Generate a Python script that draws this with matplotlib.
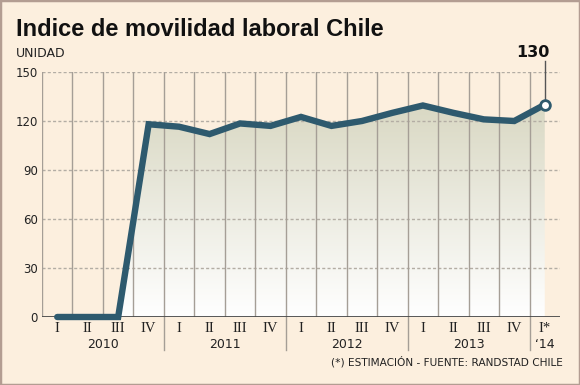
import numpy as np
import matplotlib
matplotlib.use("Agg")
import matplotlib.pyplot as plt
from matplotlib.patches import Polygon, Rectangle
from matplotlib.colors import LinearSegmentedColormap
import matplotlib.transforms as mtransforms

# data
quarters = ["I", "II", "III", "IV", "I", "II", "III", "IV", "I", "II", "III", "IV",
            "I", "II", "III", "IV", "I*"]
years = ["2010", "2011", "2012", "2013", "\u201814"]
year_pos = [1.5, 5.5, 9.5, 13.5, 16]
values = [0, 0, 0, 118, 116.5, 112, 118.5, 117, 122.5, 117, 120, 125,
          129.5, 125, 121, 120, 130]
yticks = [0, 30, 60, 90, 120, 150]

BG = "#fcefde"
LINE = "#2e5a6e"
GRID = "#a59e96"

fig = plt.figure(figsize=(5.8, 3.85), dpi=100)
fig.patch.set_facecolor(BG)
fig.add_artist(Rectangle((0, 0), 1, 1, transform=fig.transFigure, fill=False,
                         edgecolor="#b39d92", linewidth=2.5))

ax = fig.add_axes([42 / 580, 68 / 385, 518 / 580, 245 / 385])
ax.set_facecolor("none")
for s in ax.spines.values():
    s.set_visible(False)
ax.set_xlim(-0.5, 16.5)
ax.set_ylim(0, 150)
x = np.arange(len(values))

# gradient fill under the curve
verts = [(0, 0)] + list(zip(x, values)) + [(x[-1], 0)]
poly = Polygon(verts, closed=True, facecolor="none", edgecolor="none")
ax.add_patch(poly)
cmap = LinearSegmentedColormap.from_list("fill", ["#ffffff", "#d9d8c3"])
grad = np.linspace(0, 1, 256).reshape(-1, 1)
im = ax.imshow(grad, cmap=cmap, origin="lower", aspect="auto",
               extent=[0, x[-1], 0, 130], zorder=1)
im.set_clip_path(poly)

# grid
for t in yticks[1:]:
    ax.axhline(t, color="#b3ada4", lw=1, ls=(0, (2.2, 1.6)), zorder=2)
for b in np.arange(-0.5, 16, 1):
    ax.plot([b, b], [0, 150], color=GRID, lw=1, zorder=2)
trans = mtransforms.blended_transform_factory(ax.transData, ax.transAxes)
for b in [3.5, 7.5, 11.5, 15.5]:
    ax.plot([b, b], [0, -33 / 245], color=GRID, lw=1, transform=trans, clip_on=False)
ax.axhline(0, color="#4a4a4a", lw=1.3, zorder=3)

# line
ax.plot(x, values, color=LINE, lw=4.6, solid_capstyle="round",
        solid_joinstyle="miter", zorder=4, clip_on=False)
ax.plot(x[-1], values[-1], "o", ms=7, mfc="white", mec=LINE, mew=2, zorder=5,
        clip_on=False)
ax.plot([x[-1], x[-1]], [values[-1] + 3, 157], color="#555555", lw=1, clip_on=False)
ax.text(15.62, 159, f"{values[-1]:.0f}", ha="center", va="baseline", fontsize=11.5,
        fontweight="bold", color="#111111", clip_on=False)

# axes labels
ax.set_xticks([])
ax.set_yticks(yticks)
ax.set_yticklabels([str(t) for t in yticks], fontsize=8.5, color="#222222")
ax.tick_params(axis="y", length=0, pad=3)
for i, q in enumerate(quarters):
    ax.text(i, -12 / 245, q, transform=trans, ha="center", va="center",
            fontsize=10.5, family="Liberation Serif", color="#222222")
for p, yr in zip(year_pos, years):
    ax.text(p, -27 / 245, yr, transform=trans, ha="center", va="center",
            fontsize=9, color="#222222")

fig.text(16 / 580, 1 - 36 / 385, "Indice de movilidad laboral Chile",
         fontsize=17, fontweight="bold", family="Liberation Sans",
         va="baseline", color="#111111")
fig.text(16 / 580, 1 - 57 / 385, "UNIDAD", fontsize=9, va="baseline", color="#222222")
fig.text(563 / 580, 1 - 362 / 385, "(*) ESTIMACIÓN - FUENTE: RANDSTAD CHILE",
         fontsize=7.6, ha="right", va="center", color="#222222")

fig.savefig("out.png", dpi=100, facecolor=BG)
